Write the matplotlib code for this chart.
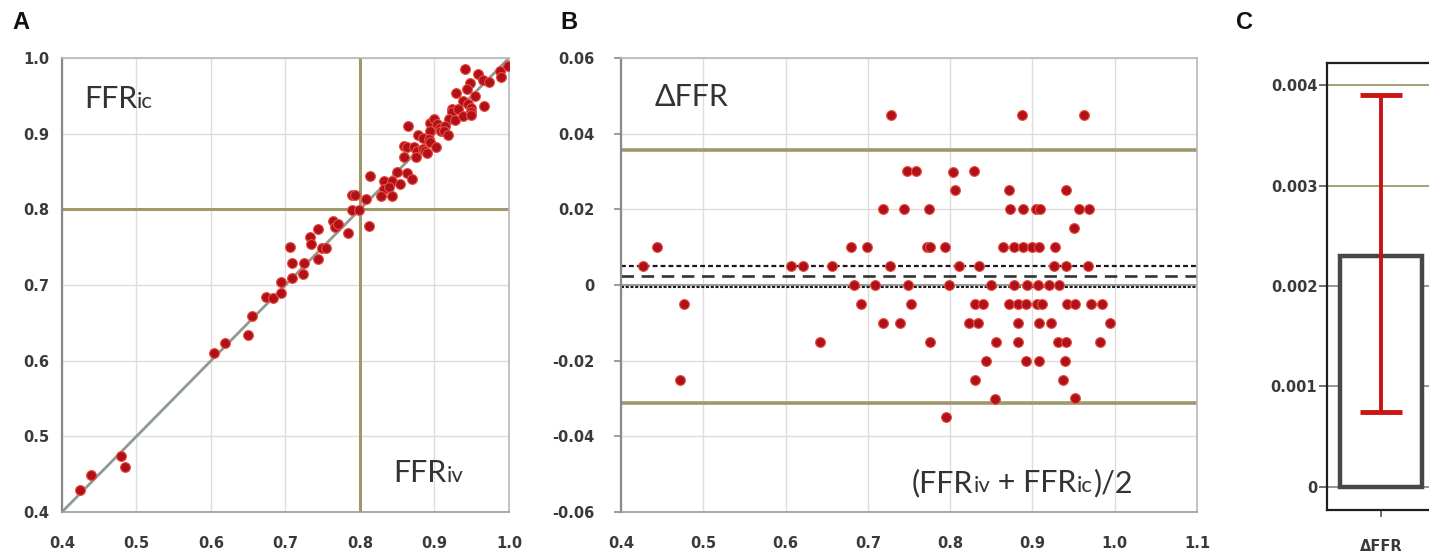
import numpy as np
import matplotlib.pyplot as plt

plt.rcParams['lines.scale_dashes'] = False

ffr_iv = [0.7055, 0.8645, 0.9405,
          0.733, 0.744, 0.789, 0.814,
          0.7935, 0.8585, 0.9285,
          0.709, 0.734, 0.764, 0.863, 0.878, 0.894, 0.899, 0.947, 0.959,
          0.9435,
          0.439, 0.674, 0.694, 0.767, 0.771, 0.789, 0.859, 0.873, 0.884, 0.894, 0.903, 0.923,
          0.4245, 0.6045, 0.6185, 0.6545, 0.7245, 0.8085, 0.8325, 0.9235, 0.9385, 0.9655,
          0.683, 0.709, 0.749, 0.799, 0.850, 0.877, 0.893, 0.907, 0.920, 0.932,
          0.4795, 0.6945, 0.7545, 0.8325, 0.8425, 0.8745, 0.8845, 0.8945, 0.9085, 0.9145, 0.9445, 0.9545, 0.9735, 0.9875,
          0.724, 0.744, 0.828, 0.839, 0.887, 0.913, 0.928, 0.999,
          0.6495, 0.7835, 0.8635, 0.8895, 0.9385, 0.9485, 0.9895,
          0.854, 0.902, 0.918, 0.949,
          0.4845, 0.8425, 0.9495,
          0.870, 0.967,
          0.8125]
ffr_ic = [0.7505, 0.9095, 0.9855,
          0.763, 0.774, 0.819, 0.844,
          0.8185, 0.8835, 0.9535,
          0.729, 0.754, 0.784, 0.883, 0.898, 0.914, 0.919, 0.967, 0.979,
          0.9585,
          0.449, 0.684, 0.704, 0.777, 0.781, 0.799, 0.869, 0.883, 0.894, 0.904, 0.913, 0.933,
          0.4295, 0.6095, 0.6235, 0.6595, 0.7295, 0.8135, 0.8375, 0.9285, 0.9435, 0.9705,
          0.683, 0.709, 0.749, 0.799, 0.850, 0.877, 0.893, 0.907, 0.920, 0.932,
          0.4745, 0.6895, 0.7495, 0.8275, 0.8375, 0.8695, 0.8795, 0.8895, 0.9035, 0.9095, 0.9395, 0.9495, 0.9685, 0.9825,
          0.714, 0.734, 0.818, 0.829, 0.877, 0.903, 0.918, 0.989,
          0.6345, 0.7685, 0.8485, 0.8745, 0.9235, 0.9335, 0.9745,
          0.834, 0.882, 0.898, 0.929,
          0.4595, 0.8175, 0.9245,
          0.840, 0.937,
          0.7775]

cutoff = 0.8
upper_loa = 0.0358
lower_loa = -0.0313
bias = 0.0023
bias_ci_hi = 0.0051
bias_ci_lo = -0.0005

mean_diff = 0.0023
ci_low = 0.00075
ci_high = 0.0039

a_ticks = [0.4, 0.5, 0.6, 0.7, 0.8, 0.9, 1.0]
b_xticks = [0.4, 0.5, 0.6, 0.7, 0.8, 0.9, 1.0, 1.1]
b_yticks = [-0.06, -0.04, -0.02, 0, 0.02, 0.04, 0.06]
b_ylabels = ['-0.06', '-0.04', '-0.02', '0', '0.02', '0.04', '0.06']
c_yticks = [0, 0.001, 0.002, 0.003, 0.004]
c_ylabels = ['0', '0.001', '0.002', '0.003', '0.004']

iv = np.array(ffr_iv)
ic = np.array(ffr_ic)
avg = (iv + ic) / 2
delta = ic - iv

W, H = 1429, 558
fig = plt.figure(figsize=(W / 100, H / 100), dpi=100)


def px_axes(l, t, r, b):
    return fig.add_axes([l / W, 1 - b / H, (r - l) / W, (b - t) / H])


red_face = '#b0101a'
red_edge = '#e8503f'
olive = '#9f996a'
grid_c = '#dddddd'
tick_font = dict(family='DejaVu Sans', weight='bold', size=10.5, color='#3a3a3a')
label_family = ['Lato', 'DejaVu Sans']


def style(ax):
    for s in ax.spines.values():
        s.set_color('#b8b8b8')
        s.set_linewidth(1.2)
    ax.spines['left'].set_color('#8a8a8a')
    ax.spines['left'].set_linewidth(1.6)
    ax.spines['bottom'].set_color('#9a9a9a')
    ax.grid(color=grid_c, lw=1)
    ax.set_axisbelow(True)
    for lab in ax.get_xticklabels() + ax.get_yticklabels():
        lab.set(**tick_font)


# ---- A
axA = px_axes(62, 58, 509, 512)
axA.set_xlim(0.4, 1.0)
axA.set_ylim(0.4, 1.0)
axA.set_xticks(a_ticks, ['%.1f' % v for v in a_ticks])
axA.set_yticks(a_ticks, ['%.1f' % v for v in a_ticks])
axA.tick_params(axis='x', length=0, pad=17)
axA.tick_params(axis='y', length=0, pad=9)
style(axA)
axA.plot([0.4, 1.0], [0.4, 1.0], color='#8e9a92', lw=2, zorder=2)
axA.axvline(cutoff, color=olive, lw=2.2, zorder=2)
axA.axhline(cutoff, color=olive, lw=2.2, zorder=2)
axA.scatter(iv, ic, s=50, c=red_face, edgecolors=red_edge, linewidths=0.8, zorder=3)

# ---- B
axB = px_axes(621, 58, 1197, 512)
axB.set_xlim(0.4, 1.1)
axB.set_ylim(-0.06, 0.06)
axB.set_xticks(b_xticks, ['%.1f' % v for v in b_xticks])
axB.set_yticks(b_yticks, b_ylabels)
axB.tick_params(axis='x', length=0, pad=17)
axB.tick_params(axis='y', length=5, width=1.2, color='#8a8a8a', pad=14)
style(axB)
axB.axhline(0, color='#9a9a9a', lw=1.4, zorder=2)
axB.axhline(upper_loa, color=olive, lw=2.6, zorder=2)
axB.axhline(lower_loa, color=olive, lw=2.6, zorder=2)
axB.axhline(bias_ci_hi, color='#1a1a1a', lw=1.6, ls=(0, (3.5, 2.2)), zorder=2)
axB.axhline(bias, color='#333333', lw=1.9, ls=(0, (9, 5.5)), zorder=2)
axB.axhline(bias_ci_lo, color='#1a1a1a', lw=1.5, ls=(0, (2.2, 1.2)), zorder=2)
axB.scatter(avg, delta, s=50, c=red_face, edgecolors=red_edge, linewidths=0.8, zorder=3)

# ---- C
axC = px_axes(1327, 63, 1435, 510)
axC.set_xlim(-0.5, 0.5)
axC.set_ylim(-0.00023, 0.00422)
axC.set_yticks(c_yticks, c_ylabels)
axC.set_xticks([0], ['ΔFFR'])
for y in c_yticks:
    axC.axhline(y, color=olive if y >= 0.003 else '#8c8c8c', lw=1.3, zorder=0)
axC.bar([0], [mean_diff], width=0.76, color='white', edgecolor='#474747', linewidth=3.2, zorder=2)
axC.errorbar([0], [(ci_low + ci_high) / 2], yerr=[[(ci_high - ci_low) / 2], [(ci_high - ci_low) / 2]],
             fmt='none', ecolor='#cc1414', elinewidth=2.8, capsize=15, capthick=3.5, zorder=3)
for s in axC.spines.values():
    s.set_color('#1e1e1e')
    s.set_linewidth(1.6)
axC.tick_params(axis='y', length=6, width=1.2, color='#555555', pad=1)
axC.tick_params(axis='x', length=5, width=1.2, color='#555555', pad=16)
for lab in axC.get_xticklabels() + axC.get_yticklabels():
    lab.set(**tick_font)

# panel letters
for letter, x in [('A', 12), ('B', 560), ('C', 1236)]:
    fig.text(x / W, 1 - 29 / H, letter, family='Liberation Sans', weight='bold', size=17, color='#111111')


def rich(xpx, ypx, parts):
    r = fig.canvas.get_renderer()
    x = xpx
    for s, size in parts:
        t = fig.text(x / W, 1 - ypx / H, s, fontsize=size, family=label_family,
                     color='#333333', va='baseline', ha='left')
        x += t.get_window_extent(r).width


big, small = 22, 16
rich(84, 108, [('FFR', big), ('ic', small)])
rich(393, 482, [('FFR', big), ('iv', small)])
rich(655, 106, [('ΔFFR', big)])
rich(912, 492, [('(FFR', big), ('iv', small), (' + FFR', big), ('ic', small), (')/2', big)])

fig.savefig('out.png', dpi=100)
